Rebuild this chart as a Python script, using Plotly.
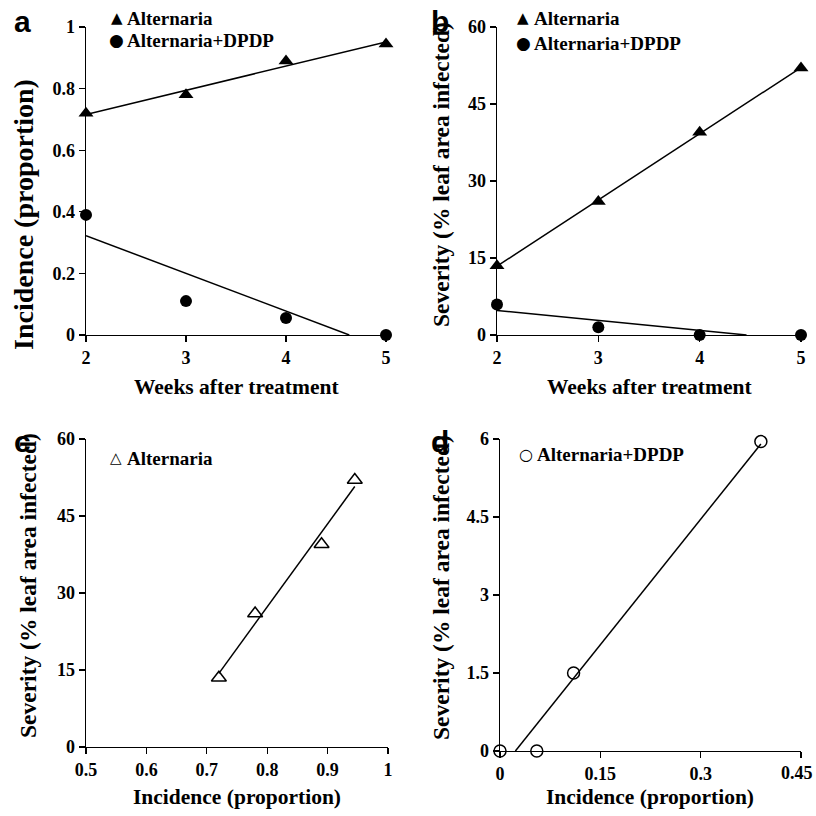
import numpy as np
import plotly.graph_objects as go

# ---- data ----
weeks = [2, 3, 4, 5]
inc_alt = [0.72, 0.78, 0.89, 0.945]
inc_dpdp = [0.39, 0.11, 0.055, 0.0]
sev_alt = [13.5, 26.0, 39.5, 52.0]
sev_dpdp = [5.95, 1.5, 0.0, 0.0]

a_yticks = [0, 0.2, 0.4, 0.6, 0.8, 1]
b_yticks = [0, 15, 30, 45, 60]
c_xticks = [0.5, 0.6, 0.7, 0.8, 0.9, 1]
d_xticks = [0, 0.15, 0.3, 0.45]
d_yticks = [0, 1.5, 3, 4.5, 6]

W = H = 816
SERIF = "Liberation Serif, Times New Roman, DejaVu Serif, serif"


def px(x):
    return x / W


def py(y):
    return 1 - y / H


def fit_line(x, y, xmin, xmax):
    m, b = np.polyfit(x, y, 1)
    x0, x1 = xmin, xmax
    if m * x0 + b < 0:
        x0 = -b / m
    if m * x1 + b < 0:
        x1 = -b / m
    return [x0, x1], [m * x0 + b, m * x1 + b]


fig = go.Figure()

tri = dict(symbol="triangle-up", size=13, color="black")
dot = dict(symbol="circle", size=12, color="black")
otri = dict(symbol="triangle-up-open", size=13, color="black", line=dict(width=1.5))
odot = dict(symbol="circle-open", size=12, color="black", line=dict(width=1.5))
line = dict(color="black", width=1.5)


def add(x, y, xa, ya, **kw):
    fig.add_trace(go.Scatter(x=x, y=y, xaxis=xa, yaxis=ya, cliponaxis=False, hoverinfo="skip", **kw))


# panel a
add(*fit_line(weeks, inc_alt, 2, 5), "x", "y", mode="lines", line=line)
add(*fit_line(weeks, inc_dpdp, 2, 5), "x", "y", mode="lines", line=line)
add(weeks, inc_alt, "x", "y", mode="markers", marker=tri)
add(weeks, inc_dpdp, "x", "y", mode="markers", marker=dot)

# panel b
add(*fit_line(weeks, sev_alt, 2, 5), "x2", "y2", mode="lines", line=line)
add(*fit_line(weeks, sev_dpdp, 2, 5), "x2", "y2", mode="lines", line=line)
add(weeks, sev_alt, "x2", "y2", mode="markers", marker=tri)
add(weeks, sev_dpdp, "x2", "y2", mode="markers", marker=dot)

# panel c
add(*fit_line(inc_alt, sev_alt, min(inc_alt), max(inc_alt)), "x3", "y3", mode="lines", line=line)
add(inc_alt, sev_alt, "x3", "y3", mode="markers", marker=otri)

# panel d
add(*fit_line(inc_dpdp, sev_dpdp, min(inc_dpdp), max(inc_dpdp)), "x4", "y4", mode="lines", line=line)
add(inc_dpdp, sev_dpdp, "x4", "y4", mode="markers", marker=odot)

tickfont = dict(family=SERIF, size=18, color="black", weight="bold")


def axis(domain, rng, ticks, anchor, hide_last_label=False):
    span = rng[1] - rng[0]
    labels = [f"{t:g}" for t in ticks]
    if hide_last_label:
        labels[-1] = ""
    return dict(
        domain=domain, range=[rng[0] - span * 1e-9, rng[1] + span * 1e-6], anchor=anchor,
        automargin=False, ticklabeloverflow="allow",
        tickvals=ticks, ticktext=labels,
        showline=True, linecolor="black", linewidth=1.3,
        ticks="outside", ticklen=6, tickwidth=1.3, tickcolor="black",
        showgrid=False, zeroline=False, tickfont=tickfont, fixedrange=True,
    )


ya_dom = [py(335), py(27)]
yc_dom = [py(747), py(439)]
yd_dom = [py(751), py(439)]

fig.update_layout(
    template="none",
    width=W, height=H,
    margin=dict(l=0, r=0, t=0, b=0, autoexpand=False),
    paper_bgcolor="white", plot_bgcolor="white",
    showlegend=False,
    xaxis=axis([px(86), px(386)], [2, 5], weeks, "y"),
    yaxis=axis(ya_dom, [0, 1], a_yticks, "x"),
    xaxis2=axis([px(497), px(801)], [2, 5], weeks, "y2"),
    yaxis2=axis(ya_dom, [0, 60], b_yticks, "x2"),
    xaxis3=axis([px(86), px(388)], [0.5, 1], c_xticks, "y3"),
    yaxis3=axis(yc_dom, [0, 60], b_yticks, "x3"),
    xaxis4=axis([px(500), px(801)], [0, 0.45], d_xticks, "y4", hide_last_label=True),
    yaxis4=axis(yd_dom, [0, 6], d_yticks, "x4"),
)

ann = []


def text(x, y, s, size, angle=0, xanchor="center", family=SERIF):
    ann.append(dict(
        x=px(x), y=py(y), xref="paper", yref="paper", text=f"<b>{s}</b>",
        showarrow=False, textangle=angle, xanchor=xanchor, yanchor="middle",
        font=dict(family=family, size=size, color="black"),
    ))


# panel labels
for lab, x, y in [("a", 22, 21), ("b", 440, 21), ("c", 22, 441), ("d", 440, 441)]:
    text(x, y, lab, 30, family="Liberation Sans, Arial, sans-serif")

# axis titles
text(236, 387, "Weeks after treatment", 21.5)
text(649, 387, "Weeks after treatment", 21.5)
text(237, 797, "Incidence (proportion)", 21.5)
text(650, 797, "Incidence (proportion)", 21.5)
text(24, 215, "Incidence (proportion)", 28, angle=-90)
text(441, 175, "Severity (% leaf area infected)", 23.5, angle=-90)
text(28, 586, "Severity (% leaf area infected)", 23.5, angle=-90)
text(441, 588, "Severity (% leaf area infected)", 23.5, angle=-90)

# last tick label of panel d, kept inside the page edge
ann.append(dict(
    x=d_xticks[-1], xref="x4", y=py(773), yref="paper", text=f"<b>{d_xticks[-1]:g}</b>",
    showarrow=False, xanchor="right", yanchor="middle", xshift=14,
    font=tickfont,
))

# legends
SYM = "DejaVu Sans"
LF = 19
text(117, 18, "▲", 15, family=SYM)
text(125, 18, "Alternaria", LF, xanchor="left")
text(117, 40, "●", 17, family=SYM)
text(125, 40, "Alternaria+DPDP", LF, xanchor="left")
text(523, 18, "▲", 15, family=SYM)
text(532, 18, "Alternaria", LF, xanchor="left")
text(523, 43, "●", 17, family=SYM)
text(532, 43, "Alternaria+DPDP", LF, xanchor="left")
text(116, 458, "△", 15, family=SYM)
text(125, 458, "Alternaria", LF, xanchor="left")
text(526, 454, "○", 16, family=SYM)
text(535, 454, "Alternaria+DPDP", LF, xanchor="left")

fig.update_layout(annotations=ann)
fig.write_html(
    "out.html",
    config={"displayModeBar": False, "staticPlot": True},
    post_script="document.body.style.margin='0';document.body.style.overflow='hidden';",
)
